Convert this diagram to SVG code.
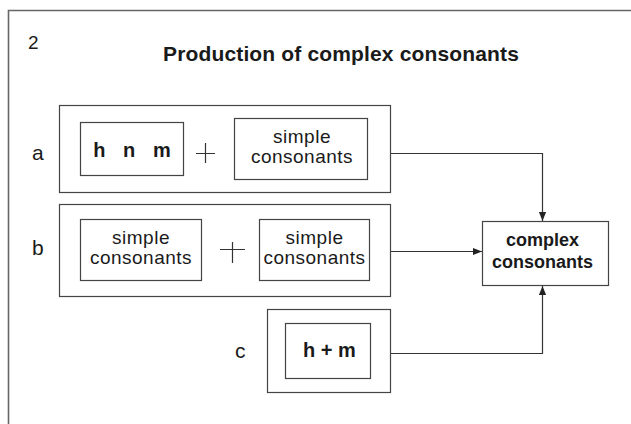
<svg xmlns="http://www.w3.org/2000/svg" width="631" height="424" viewBox="0 0 631 424">
<defs>
<style>
.box{fill:#fff;stroke:#444;stroke-width:1.2}
.ln{fill:none;stroke:#333;stroke-width:1.2}
.t{font-family:"Liberation Sans",Arial,sans-serif;fill:#1a1a1a;text-anchor:middle}
.s{font-size:19px;letter-spacing:0.5px}
.b{font-weight:bold}
.lab{font-family:"Liberation Sans",Arial,sans-serif;fill:#1a1a1a;font-size:21px}
</style>
<marker id="arr" viewBox="0 0 10 10" refX="10" refY="5" markerWidth="10" markerHeight="9" markerUnits="userSpaceOnUse" orient="auto">
<path d="M0,1 L10,5 L0,9 Z" fill="#222"/>
</marker>
</defs>
<rect width="631" height="424" fill="#fff"/>
<path d="M8.5,424 V10.5 H631" fill="none" stroke="#666" stroke-width="1.6"/>
<text x="28" y="49" class="lab" style="font-size:19px">2</text>
<text x="341" y="61" class="t b" style="font-size:21px;letter-spacing:0.15px">Production of complex consonants</text>

<g id="row-a">
<text x="32" y="160" class="lab">a</text>
<rect x="59.5" y="105.5" width="331" height="87" class="box"/>
<rect x="80.5" y="122.5" width="103" height="53" class="box"/>
<text x="132" y="157" class="t b" style="font-size:20px;word-spacing:12px">h n m</text>
<path d="M196,153.5 H215 M205.5,143 V163" class="ln"/>
<rect x="234.5" y="118.5" width="133" height="61" class="box"/>
<text x="302" y="143" class="t s">simple</text>
<text x="302" y="163" class="t s">consonants</text>
</g>

<g id="row-b">
<text x="32" y="255" class="lab">b</text>
<rect x="59.5" y="204.5" width="331" height="92" class="box"/>
<rect x="80.5" y="219.5" width="121" height="61" class="box"/>
<text x="141" y="244" class="t s">simple</text>
<text x="141" y="264" class="t s">consonants</text>
<path d="M220,249.5 H245 M232.5,242 V263" class="ln"/>
<rect x="259.5" y="219.5" width="110" height="61" class="box"/>
<text x="314.5" y="244" class="t s">simple</text>
<text x="314.5" y="264" class="t s">consonants</text>
</g>

<g id="row-c">
<text x="235" y="358" class="lab">c</text>
<rect x="267.5" y="309.5" width="123" height="83" class="box"/>
<rect x="285.5" y="323.5" width="85" height="55" class="box"/>
<text x="329.5" y="357" class="t b" style="font-size:20px">h + m</text>
</g>

<g id="complex">
<rect x="482.5" y="221.5" width="126" height="64" class="box"/>
<text x="542.5" y="246" class="t b" style="font-size:18px">complex</text>
<text x="542.5" y="268" class="t b" style="font-size:18px">consonants</text>
</g>

<g id="connectors">
<path d="M391,153.5 H542.5 V221" class="ln" marker-end="url(#arr)"/>
<path d="M391,251.5 H482" class="ln" marker-end="url(#arr)"/>
<path d="M391,353.5 H542.5 V286" class="ln" marker-end="url(#arr)"/>
</g>
</svg>
